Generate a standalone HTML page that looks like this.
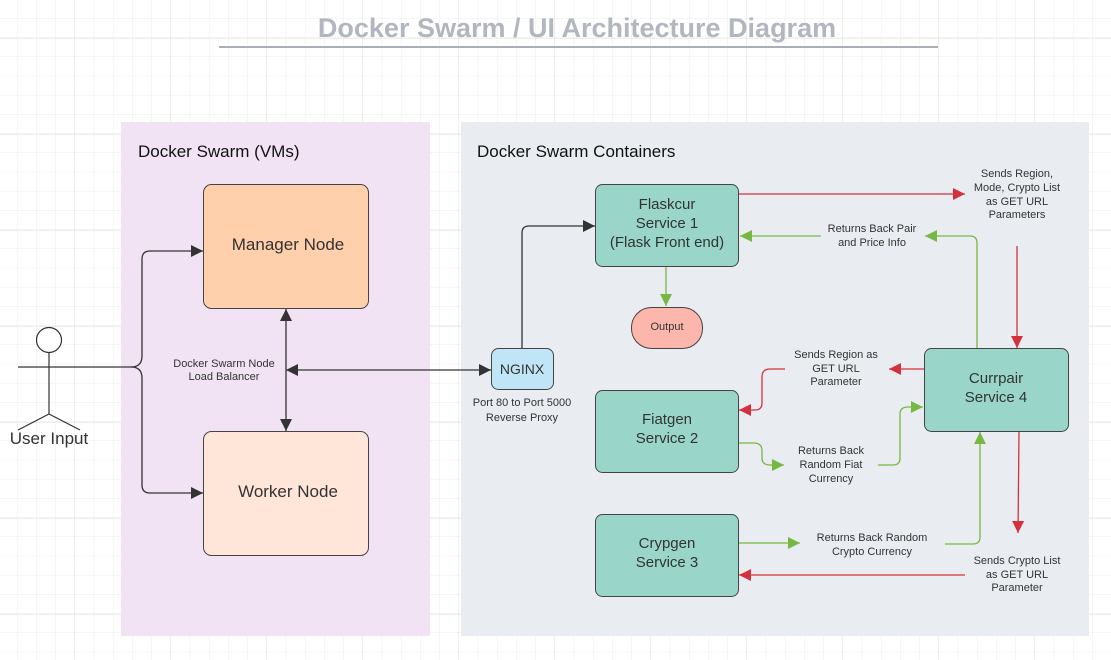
<!DOCTYPE html>
<html><head><meta charset="utf-8"><style>
html,body{margin:0;padding:0;background:#fff}
svg{display:block}
text{font-family:"Liberation Sans",sans-serif;fill:#333}
</style></head><body>
<svg width="1111" height="660" viewBox="0 0 1111 660" xmlns="http://www.w3.org/2000/svg">
<defs>
<pattern id="g" width="19.2" height="19.2" patternUnits="userSpaceOnUse" x="-1.8" y="-0.6">
<path d="M19.2 0V19.2M0 19.2H19.2" stroke="#ebebeb" stroke-width="1" fill="none"/>
</pattern>
<pattern id="G" width="96" height="96" patternUnits="userSpaceOnUse" x="-21" y="-57">
<path d="M96 0V96M0 96H96" stroke="#dcdcdc" stroke-width="1" fill="none"/>
</pattern>
<marker id="ak" viewBox="0 0 10 10" refX="10" refY="5" markerWidth="16" markerHeight="12" markerUnits="userSpaceOnUse" orient="auto-start-reverse"><path d="M0 0L10 5L0 10z" fill="#333"/></marker>
<marker id="ar" viewBox="0 0 10 10" refX="10" refY="5" markerWidth="16" markerHeight="12" markerUnits="userSpaceOnUse" orient="auto"><path d="M0 0L10 5L0 10z" fill="#d5313d"/></marker>
<marker id="ag" viewBox="0 0 10 10" refX="10" refY="5" markerWidth="16" markerHeight="12" markerUnits="userSpaceOnUse" orient="auto"><path d="M0 0L10 5L0 10z" fill="#76b843"/></marker>
</defs>
<rect width="1111" height="660" fill="url(#g)"/>
<rect width="1111" height="660" fill="url(#G)"/>
<text x="577" y="37" font-size="27" font-weight="bold" text-anchor="middle" style="fill:#b1b6c0">Docker Swarm / UI Architecture Diagram</text>
<line x1="219" y1="47" x2="938" y2="47" stroke="#a9aeb8" stroke-width="2"/>

<rect x="121" y="122" width="309" height="514" fill="#f1e3f4"/>
<rect x="461" y="122" width="628" height="514" fill="#e9edf1"/>
<text x="138" y="157" font-size="17" style="fill:#111">Docker Swarm (VMs)</text>
<text x="477" y="157" font-size="17" style="fill:#111">Docker Swarm Containers</text>

<rect x="203.5" y="184.5" width="165" height="124" rx="8" fill="#ffd0ab" stroke="#444"/>
<text x="288" y="250" font-size="17" text-anchor="middle">Manager Node</text>
<rect x="203.5" y="431.5" width="165" height="124" rx="8" fill="#ffe6d9" stroke="#444"/>
<text x="288" y="497" font-size="17" text-anchor="middle">Worker Node</text>

<g stroke="#333" stroke-width="1.2" fill="none">
<circle cx="49" cy="340" r="12.5" fill="#fff"/>
<line x1="49" y1="353" x2="49" y2="414"/>
<line x1="18" y1="367" x2="78" y2="367"/>
<line x1="49" y1="414" x2="18" y2="430"/>
<line x1="49" y1="414" x2="80" y2="430"/>
</g>
<text x="49" y="444" font-size="17" text-anchor="middle">User Input</text>

<g stroke="#333" stroke-width="1.3" fill="none">
<path d="M78 367H131Q142 367 142 356V259Q142 251 150 251H203" marker-end="url(#ak)"/>
<path d="M131 367Q142 367 142 378V485Q142 493 150 493H203" marker-end="url(#ak)"/>
<line x1="286" y1="370" x2="491" y2="370" marker-start="url(#ak)" marker-end="url(#ak)"/>
<path d="M522 348V233Q522 226 529 226H595" marker-end="url(#ak)"/>
<line x1="286" y1="309" x2="286" y2="431" marker-start="url(#ak)" marker-end="url(#ak)"/>
</g>
<text x="224" y="367" font-size="11" text-anchor="middle">Docker Swarm Node</text>
<text x="224" y="380" font-size="11" text-anchor="middle">Load Balancer</text>

<rect x="491.5" y="348.5" width="62" height="41" rx="7" fill="#bfe5f7" stroke="#444"/>
<text x="522" y="374" font-size="14" text-anchor="middle">NGINX</text>
<text x="522" y="406" font-size="11" text-anchor="middle">Port 80 to Port 5000</text>
<text x="522" y="421" font-size="11" text-anchor="middle">Reverse Proxy</text>

<g fill="#99d6c9" stroke="#444">
<rect x="595.5" y="184.5" width="143" height="82" rx="7"/>
<rect x="595.5" y="390.5" width="143" height="82" rx="7"/>
<rect x="595.5" y="514.5" width="143" height="82" rx="7"/>
<rect x="924.5" y="348.5" width="144" height="83" rx="7"/>
</g>
<rect x="631.5" y="307.5" width="71" height="41" rx="20" fill="#fcb6ab" stroke="#444"/>
<text x="667" y="330" font-size="11" text-anchor="middle">Output</text>
<g font-size="15" text-anchor="middle">
<text x="667" y="209">Flaskcur</text>
<text x="667" y="228">Service 1</text>
<text x="667" y="247">(Flask Front end)</text>
<text x="667" y="424">Fiatgen</text>
<text x="667" y="443">Service 2</text>
<text x="667" y="548">Crypgen</text>
<text x="667" y="567">Service 3</text>
<text x="996" y="383">Currpair</text>
<text x="996" y="402">Service 4</text>
</g>

<g stroke="#d5313d" stroke-width="1.3" fill="none">
<line x1="739" y1="194" x2="965" y2="194" marker-end="url(#ar)"/>
<line x1="1017" y1="246" x2="1017" y2="348" marker-end="url(#ar)"/>
<line x1="924" y1="369" x2="889" y2="369" marker-end="url(#ar)"/>
<path d="M785 369H770Q762 369 762 377V403Q762 410 755 410H739" marker-end="url(#ar)"/>
<line x1="1019" y1="432" x2="1018" y2="533" marker-end="url(#ar)"/>
<line x1="965" y1="575" x2="739" y2="575" marker-end="url(#ar)"/>
</g>
<g stroke="#76b843" stroke-width="1.3" fill="none">
<line x1="666" y1="267" x2="666" y2="306" marker-end="url(#ag)"/>
<line x1="821" y1="236" x2="740" y2="236" marker-end="url(#ag)"/>
<path d="M977 348V243Q977 236 970 236H925" marker-end="url(#ag)"/>
<path d="M739 443H754Q762 443 762 451V458Q762 465 770 465H784" marker-end="url(#ag)"/>
<path d="M878 465H893Q900 465 900 458V414Q900 407 908 407H923" marker-end="url(#ag)"/>
<line x1="739" y1="543" x2="800" y2="543" marker-end="url(#ag)"/>
<path d="M945 544H973Q980 544 980 537V432" marker-end="url(#ag)"/>
</g>

<g font-size="11" text-anchor="middle">
<text x="1017" y="177">Sends Region,</text>
<text x="1017" y="191">Mode, Crypto List</text>
<text x="1017" y="205">as GET URL</text>
<text x="1017" y="218">Parameters</text>
<text x="872" y="232">Returns Back Pair</text>
<text x="872" y="246">and Price Info</text>
<text x="836" y="358">Sends Region as</text>
<text x="836" y="372">GET URL</text>
<text x="836" y="385">Parameter</text>
<text x="831" y="454">Returns Back</text>
<text x="831" y="468">Random Fiat</text>
<text x="831" y="482">Currency</text>
<text x="872" y="541">Returns Back Random</text>
<text x="872" y="555">Crypto Currency</text>
<text x="1017" y="564">Sends Crypto List</text>
<text x="1017" y="578">as GET URL</text>
<text x="1017" y="591">Parameter</text>
</g>
</svg>
</body></html>
